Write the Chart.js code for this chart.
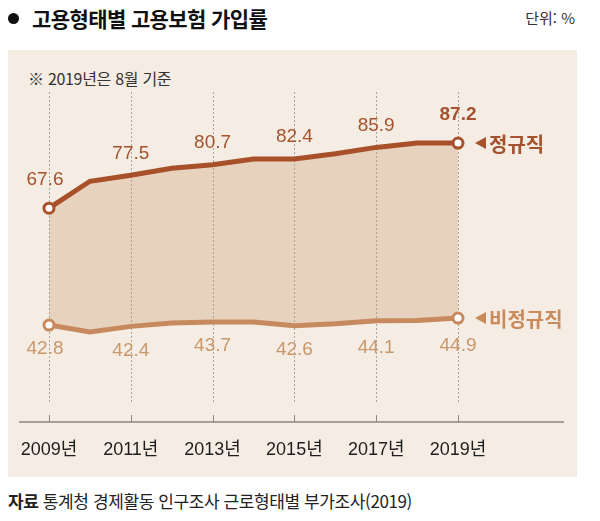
<!DOCTYPE html>
<html lang="ko">
<head>
<meta charset="utf-8">
<script src="https://cdn.jsdelivr.net/npm/chart.js@4"></script>
<style>
  body { margin: 0; background: #fff; font-family: "Noto Sans CJK KR", sans-serif; color: #222; }
  #wrap { position: relative; width: 600px; height: 521px; overflow: hidden; }
  #panel { position: absolute; left: 8px; top: 50px; width: 569px; height: 427px; background: #f5ece3; }
  #bullet { position: absolute; left: 8px; top: 13px; width: 11px; height: 11px; border-radius: 50%; background: #111; }
  #title { position: absolute; left: 32px; top: 3px; font-size: 21px; font-weight: bold; letter-spacing: -0.6px; color: #111; }
  #unit { position: absolute; right: 25px; top: 7px; font-size: 15px; color: #333; }
  #note { position: absolute; left: 28px; top: 66px; font-size: 16px; color: #333; letter-spacing: -0.3px; }
  #source { position: absolute; left: 8px; top: 488px; font-size: 17px; color: #222; letter-spacing: -0.4px; }
  #chart { position: absolute; left: 0; top: 0; }
</style>
</head>
<body>
<div id="wrap">
  <div id="panel"></div>
  <div id="bullet"></div>
  <div id="title">고용형태별 고용보험 가입률</div>
  <div id="unit">단위: %</div>
  <div id="note">※ 2019년은 8월 기준</div>
  <div id="source"><b>자료</b> 통계청 경제활동 인구조사 근로형태별 부가조사(2019)</div>
  <canvas id="chart" width="600" height="521"></canvas>
</div>
<script>
// 연도 (홀수 연도만 축에 표시)
const years = ['2009', '2010', '2011', '2012', '2013', '2014', '2015', '2016', '2017', '2018', '2019'];
// 정규직 / 비정규직 가입률 (%) - 짝수 연도는 그림에서 읽은 추정값
const regular = [67.6, 75.7, 77.5, 79.6, 80.7, 82.4, 82.4, 84.0, 85.9, 87.2, 87.2];
const nonRegular = [42.8, 40.7, 42.4, 43.4, 43.7, 43.7, 42.6, 43.2, 44.1, 44.2, 44.9];

const regularColor = '#a8502a';
const nonRegularColor = '#c78a5e';

// 점선 눈금선, 축선, 눈금
const gridPlugin = {
    id: 'gridPlugin',
    beforeDatasetsDraw(chart) {
        const ctx = chart.ctx;
        const x = chart.scales.x;
        ctx.save();
        ctx.strokeStyle = '#aaa39c';
        ctx.lineWidth = 1;
        ctx.setLineDash([2, 2]);
        years.forEach((y, i) => {
            if (i % 2 !== 0) return;
            const px = Math.round(x.getPixelForValue(i)) + 0.5;
            ctx.beginPath();
            ctx.moveTo(px, 92);
            ctx.lineTo(px, 402);
            ctx.stroke();
        });
        ctx.setLineDash([]);
        ctx.strokeStyle = '#8c8782';
        years.forEach((y, i) => {
            if (i % 2 !== 0) return;
            const px = Math.round(x.getPixelForValue(i)) + 0.5;
            ctx.beginPath();
            ctx.moveTo(px, 415);
            ctx.lineTo(px, 422);
            ctx.stroke();
        });
        ctx.lineWidth = 1.5;
        ctx.beginPath();
        ctx.moveTo(19, 422);
        ctx.lineTo(564, 422);
        ctx.stroke();
        ctx.restore();
    }
};

// 값 라벨과 오른쪽 시리즈 이름
const labelPlugin = {
    id: 'labelPlugin',
    afterDatasetsDraw(chart) {
        const ctx = chart.ctx;
        ctx.save();
        ctx.textAlign = 'center';
        ctx.textBaseline = 'middle';
        chart.data.datasets.forEach((ds, d) => {
            const meta = chart.getDatasetMeta(d);
            const last = ds.data.length - 1;
            meta.data.forEach((pt, i) => {
                if (i % 2 !== 0) return;
                const isEnd = (i === 0 || i === last);
                let dy;
                if (d === 0) dy = isEnd ? -28 : -22;
                else dy = i === last ? 28 : (i === 8 ? 27 : 24);
                const bold = (d === 0 && i === last);
                ctx.font = (bold ? 'bold ' : '') + '19px "Liberation Sans", Arial, sans-serif';
                ctx.fillStyle = d === 0 ? '#a5532e' : '#c9976c';
                ctx.fillText(ds.data[i].toFixed(1), pt.x - (i === 0 ? 4 : 0), pt.y + dy);
            });
            // 시리즈 이름
            const lp = meta.data[last];
            ctx.fillStyle = d === 0 ? '#a5532e' : '#c98a5c';
            ctx.beginPath();
            ctx.moveTo(lp.x + 17, lp.y);
            ctx.lineTo(lp.x + 28, lp.y - 6);
            ctx.lineTo(lp.x + 28, lp.y + 6);
            ctx.closePath();
            ctx.fill();
            ctx.textAlign = 'left';
            ctx.font = 'bold 20px "Noto Sans CJK KR", sans-serif';
            ctx.fillText(ds.label, lp.x + 31, lp.y + 1);
            ctx.textAlign = 'center';
        });
        ctx.restore();
    }
};

const endPoint = (ctx) => (ctx.dataIndex === 0 || ctx.dataIndex === years.length - 1) ? 5 : 0;

new Chart(document.getElementById('chart'), {
    type: 'line',
    data: {
        labels: years,
        datasets: [{
            label: '정규직',
            data: regular,
            yAxisID: 'yU',
            borderColor: regularColor,
            borderWidth: 5,
            backgroundColor: '#e7d2be',
            fill: '+1',
            tension: 0,
            pointRadius: endPoint,
            pointBackgroundColor: '#fff',
            pointBorderColor: regularColor,
            pointBorderWidth: 3
        }, {
            label: '비정규직',
            data: nonRegular,
            yAxisID: 'yL',
            borderColor: nonRegularColor,
            borderWidth: 5,
            fill: false,
            tension: 0,
            pointRadius: endPoint,
            pointBackgroundColor: '#fff',
            pointBorderColor: nonRegularColor,
            pointBorderWidth: 3
        }]
    },
    options: {
        responsive: false,
        devicePixelRatio: 1,
        animation: false,
        layout: { padding: { left: 49, right: 142, top: 80, bottom: 63 } },
        plugins: {
            legend: { display: false },
            tooltip: { enabled: false },
            filler: { drawTime: 'beforeDatasetsDraw' }
        },
        scales: {
            x: {
                offset: false,
                grid: { display: false, drawTicks: false },
                border: { display: false },
                afterFit: function (scale) { scale.height = 36; },
                ticks: {
                    padding: 17,
                    autoSkip: false,
                    maxRotation: 0,
                    color: '#1e1e1e',
                    font: { size: 18, family: '"Liberation Sans", "Noto Sans CJK KR", sans-serif' },
                    callback: function (value, index) {
                        return index % 2 === 0 ? years[index] + '년' : '';
                    }
                }
            },
            // 위쪽 시리즈 (정규직) - 중간이 생략된 축
            yU: { display: false, min: 3.2, max: 106.2 },
            // 아래쪽 시리즈 (비정규직)
            yL: { display: false, min: 13.6, max: 116.6 }
        }
    },
    plugins: [gridPlugin, labelPlugin]
});
</script>
</body>
</html>
